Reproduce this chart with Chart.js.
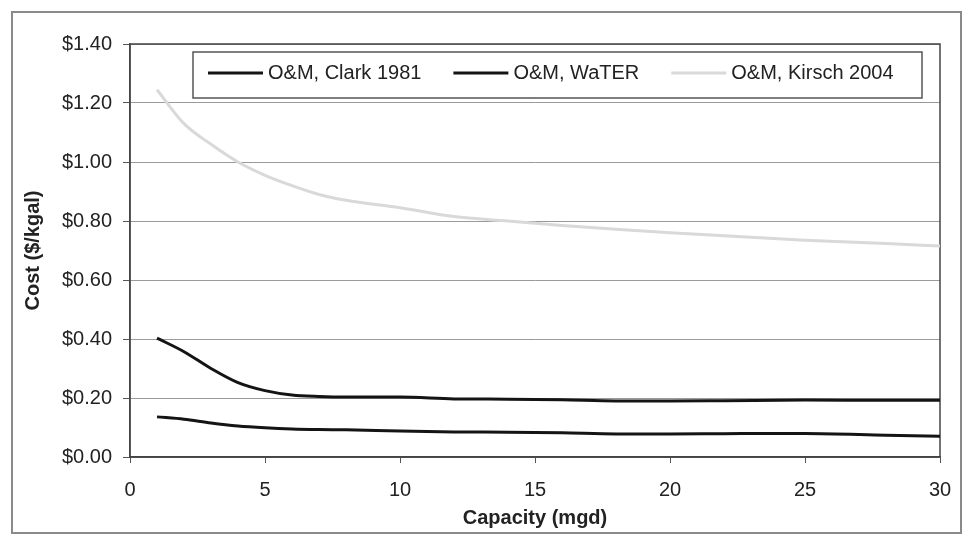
<!DOCTYPE html>
<html>
<head>
<meta charset="utf-8">
<script src="https://cdn.jsdelivr.net/npm/chart.js@4.4.0/dist/chart.umd.min.js"></script>
<style>
  html, body { margin: 0; padding: 0; background: #fff; }
  #wrap { width: 967px; height: 537px; position: relative; }
</style>
</head>
<body>
<div id="wrap"><canvas id="myChart" width="967" height="537"></canvas></div>
<script>
// capacity values (mgd) along the x-axis
var capacity = [1,2,3,4,5,6,7,8,10,12,14,16,18,20,22,25,28,30];
// cost curves ($/kgal)
var clark = [0.136,0.128,0.115,0.105,0.099,0.095,0.093,0.092,0.088,0.085,0.084,0.082,0.078,0.078,0.079,0.080,0.074,0.070];
var water = [0.403,0.357,0.300,0.252,0.225,0.210,0.205,0.203,0.203,0.197,0.196,0.194,0.190,0.190,0.191,0.193,0.192,0.192];
var kirsch = [1.245,1.130,1.060,1.000,0.955,0.920,0.890,0.870,0.845,0.815,0.800,0.785,0.772,0.760,0.750,0.735,0.724,0.715];
var seriesNames = ["O&M, Clark 1981", "O&M, WaTER", "O&M, Kirsch 2004"];

function pts(ys) {
  return capacity.map(function (x, i) { return { x: x, y: ys[i] }; });
}

var FONT = "'Liberation Sans', Arial, sans-serif";

// frame round the picture, box round the plot area, legend inside the plot
var framePlugin = {
  id: 'frame',
  beforeDraw: function (chart) {
    var c = chart.ctx;
    c.save();
    c.fillStyle = '#fff';
    c.fillRect(0, 0, chart.width, chart.height);
    c.strokeStyle = '#8a8a8a';
    c.lineWidth = 2;
    c.strokeRect(12, 12, chart.width - 18, chart.height - 16);
    c.restore();
  },
  beforeDatasetsDraw: function (chart) {
    var a = chart.chartArea, c = chart.ctx;
    c.save();
    c.strokeStyle = '#444';
    c.lineWidth = 1.5;
    c.strokeRect(a.left, a.top, a.right - a.left, a.bottom - a.top);
    c.restore();
  },
  afterDatasetsDraw: function (chart) {
    var a = chart.chartArea, c = chart.ctx;
    var left = a.left + 63, top = a.top + 8, right = a.right - 18, h = 46;
    c.save();
    c.fillStyle = '#fff';
    c.fillRect(left, top, right - left, h);
    c.strokeStyle = '#555';
    c.lineWidth = 1.5;
    c.strokeRect(left, top, right - left, h);
    c.font = '20px ' + FONT;
    c.textBaseline = 'middle';
    var x = left + 15, y = top + 21;
    chart.data.datasets.forEach(function (ds) {
      c.strokeStyle = ds.borderColor;
      c.lineWidth = 3;
      c.beginPath();
      c.moveTo(x, y);
      c.lineTo(x + 55, y);
      c.stroke();
      c.fillStyle = '#222';
      c.fillText(ds.label, x + 60, y);
      x += 60 + c.measureText(ds.label).width + 32;
    });
    c.restore();
  }
};

var ctx = document.getElementById("myChart");
var myChart = new Chart(ctx, {
  type: 'line',
  data: {
    datasets: [
      {
        label: seriesNames[0],
        data: pts(clark),
        borderColor: "#141414",
        borderWidth: 3,
        pointRadius: 0,
        cubicInterpolationMode: 'monotone',
        fill: false
      },
      {
        label: seriesNames[1],
        data: pts(water),
        borderColor: "#141414",
        borderWidth: 3,
        pointRadius: 0,
        cubicInterpolationMode: 'monotone',
        fill: false
      },
      {
        label: seriesNames[2],
        data: pts(kirsch),
        borderColor: "#d9d9d9",
        borderWidth: 3,
        pointRadius: 0,
        cubicInterpolationMode: 'monotone',
        fill: false
      }
    ]
  },
  options: {
    responsive: false,
    animation: false,
    layout: { padding: { left: 12, right: 27, top: 44, bottom: 7 } },
    plugins: {
      legend: { display: false },
      tooltip: { enabled: false }
    },
    scales: {
      x: {
        type: 'linear',
        min: 0,
        max: 30,
        ticks: {
          stepSize: 5,
          color: '#222',
          padding: 15,
          font: { family: FONT, size: 20 }
        },
        grid: { drawOnChartArea: false, tickLength: 6, tickColor: '#555' },
        border: { color: '#444', width: 1.5 },
        title: {
          display: true,
          text: 'Capacity (mgd)',
          color: '#222',
          font: { family: FONT, size: 20, weight: 'bold' },
          padding: { top: 4, bottom: 0 }
        },
        afterFit: function (s) { s.height = 73; }
      },
      y: {
        min: 0,
        max: 1.4,
        ticks: {
          stepSize: 0.2,
          color: '#222',
          padding: 11,
          font: { family: FONT, size: 20 },
          callback: function (v) { return '$' + v.toFixed(2); }
        },
        grid: { color: '#9a9a9a', lineWidth: 1, tickLength: 7, tickColor: '#555' },
        border: { color: '#444', width: 1.5 },
        title: {
          display: true,
          text: 'Cost ($/kgal)',
          color: '#222',
          font: { family: FONT, size: 20, weight: 'bold' },
          padding: { top: 9, bottom: 0 }
        },
        afterFit: function (s) { s.width = 118; }
      }
    }
  },
  plugins: [framePlugin]
});
</script>
</body>
</html>
